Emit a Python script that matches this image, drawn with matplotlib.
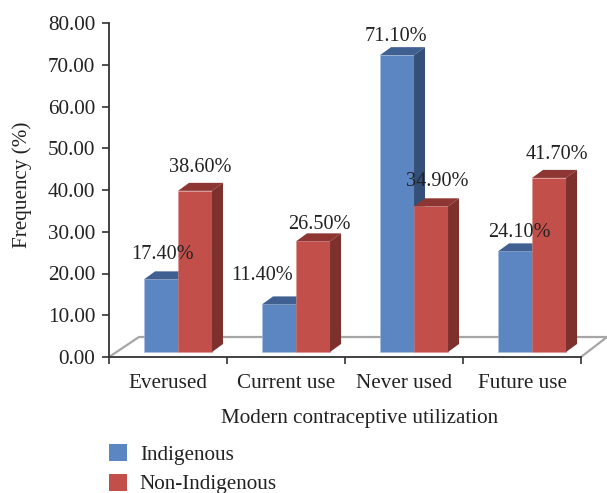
import matplotlib
matplotlib.use("Agg")
import matplotlib.pyplot as plt
from matplotlib.patches import Polygon, Patch
from matplotlib.lines import Line2D

categories = ["Everused", "Current use", "Never used", "Future use"]
indigenous = [17.4, 11.4, 71.1, 24.1]
non_indigenous = [38.6, 26.5, 34.9, 41.7]
yticks = [0, 10, 20, 30, 40, 50, 60, 70, 80]
x_title = "Modern contraceptive utilization"
y_title = "Frequency (%)"

W, H = 607, 493
plt.rcParams["font.family"] = ["Liberation Serif", "DejaVu Serif"]
FS = 15.2
FSL = 14.6
TXT = "#222222"
fig = plt.figure(figsize=(W / 100, H / 100), dpi=100)
L, R, T, B = 109, 581, 23, 357
ax = fig.add_axes([L / W, 1 - B / H, (R - L) / W, (B - T) / H])
ax.set_xlim(-0.5, 3.5)
ax.set_ylim(0, 80)
pxx = 4 / (R - L)
pxy = 80 / (B - T)

# floor
ax.add_patch(Polygon([(-0.5, 0), (-0.5 + 30 * pxx, 20 * pxy), (-0.5 + 498 * pxx, 20 * pxy), (3.5, 0)],
                     closed=True, fc="white", ec="none", clip_on=False, zorder=1))
ax.add_line(Line2D([-0.5, -0.5 + 30 * pxx, -0.5 + 498 * pxx, 3.5],
                   [0, 20 * pxy, 20 * pxy, 0], color="#a6a6a6", lw=1.6, clip_on=False, zorder=1.5))

bw = 34 * pxx
base = 5 * pxy
dx, dy = 11 * pxx, 8 * pxy
off = 0.085


def bar3d(x, v, front, top, side, z):
    ax.bar(x, v, bw, bottom=base, align="edge", color=front, zorder=z, edgecolor="#a9bfe0" if front == "#5b86c2" else "#d98f8c", linewidth=0.4)
    t = base + v
    ax.add_patch(Polygon([(x, t), (x + dx, t + dy), (x + bw + dx, t + dy), (x + bw, t)], fc=top, ec="none", zorder=z))
    ax.add_patch(Polygon([(x + bw, base), (x + bw + dx, base + dy), (x + bw + dx, t + dy), (x + bw, t)], fc=side, ec="none", zorder=z))


for i, v in enumerate(indigenous):
    bar3d(i + off - bw, v, "#5b86c2", "#3f6090", "#344f78", 2)
for i, v in enumerate(non_indigenous):
    bar3d(i + off, v, "#c34f4a", "#8e3633", "#7e302d", 3)

blue_off = [(2, 25), (-17, 29), (-1, 19), (4, 19)]
red_off = [(5, 23), (6, 17), (6, 25), (8, 23)]
for i, v in enumerate(indigenous):
    ax.annotate(f"{v:.2f}%", (i + off - bw / 2, base + v), xytext=(blue_off[i][0] * .72, blue_off[i][1] * .72),
                textcoords="offset points", ha="center", va="center", fontsize=FSL, color=TXT, zorder=5)
for i, v in enumerate(non_indigenous):
    ax.annotate(f"{v:.2f}%", (i + off + bw / 2, base + v), xytext=(red_off[i][0] * .72, red_off[i][1] * .72),
                textcoords="offset points", ha="center", va="center", fontsize=FSL, color=TXT, zorder=5)

for s in ("top", "right"):
    ax.spines[s].set_visible(False)
for s in ("left", "bottom"):
    ax.spines[s].set_color("#333333")
    ax.spines[s].set_linewidth(1.3)
    ax.spines[s].set_zorder(4)
ax.patch.set_alpha(0)
ax.set_yticks(yticks)
ax.set_yticklabels([f"{t:.2f}" for t in yticks], fontsize=FS, color=TXT)
ax.set_xticks([-0.5, 0.5, 1.5, 2.5, 3.5])
ax.set_xticklabels([])
ax.set_xticks([0, 1, 2, 3], minor=True)
ax.set_xticklabels(categories, minor=True, fontsize=FS, color=TXT)
ax.tick_params(axis="x", which="minor", length=0, pad=12)
ax.tick_params(axis="both", which="major", length=5, width=1.2, color="#333333")
ax.tick_params(axis="y", pad=5)
fig.text(360 / W, 1 - 418 / H, x_title, ha="center", va="center", fontsize=FS, color=TXT)
fig.text(22 / W, 1 - 185 / H, y_title, ha="center", va="center", rotation=90, fontsize=FS, color=TXT)

handles = [Patch(fc="#5b86c2", label="Indigenous"), Patch(fc="#c34f4a", label="Non-Indigenous")]
fig.legend(handles=handles, loc="upper left", bbox_to_anchor=(109 / W, 1 - 444 / H), frameon=False,
           prop={"size": FS}, labelcolor=TXT, handlelength=0.86, handleheight=0.86, handletextpad=0.6,
           labelspacing=0.42, borderpad=0, borderaxespad=0)
fig.savefig("out.png", dpi=100)
